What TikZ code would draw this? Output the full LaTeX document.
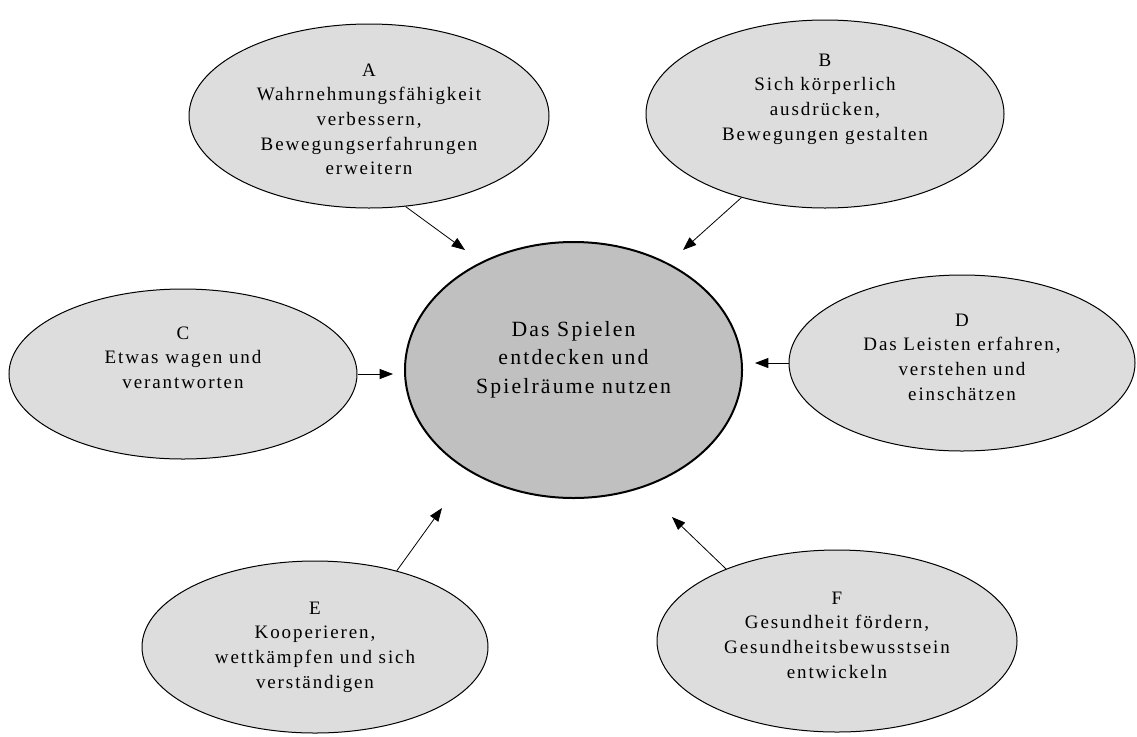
\documentclass[tikz,border=0pt]{standalone}
\usepackage{fontspec}
\setmainfont{Liberation Serif}
\usetikzlibrary{shapes.geometric,arrows.meta}
\definecolor{outerfill}{HTML}{DDDDDD}
\definecolor{innerfill}{HTML}{C0C0C0}
\begin{document}
\begin{tikzpicture}[x=0.75pt,y=-0.75pt,
  bubble/.style={ellipse, draw=black, line width=0.75pt, fill=outerfill, inner sep=0pt},
  core/.style={ellipse, draw=black, line width=1.5pt, fill=innerfill, inner sep=0pt},
  lbl/.style={align=center, inner sep=0pt, font=\fontsize{14.25pt}{18.5pt}\selectfont\addfontfeature{LetterSpace=10}},
  corelbl/.style={align=center, inner sep=0pt, font=\fontsize{16.3pt}{21.3pt}\selectfont\addfontfeature{LetterSpace=10}},
  arr/.style={line width=0.6pt, -{Triangle[length=10pt,width=7.5pt]}}]
\useasboundingbox (0,0) rectangle (1137,736);
% ellipses
\node[core, minimum width=252.75pt, minimum height=192pt] (Z) at (573.5,370) {};
\node[bubble, minimum width=270pt, minimum height=138pt] (A) at (369,116) {};
\node[bubble, minimum width=268.5pt, minimum height=141pt] (B) at (825,114) {};
\node[bubble, minimum width=261pt, minimum height=127.5pt] (C) at (183,374) {};
\node[bubble, minimum width=259.5pt, minimum height=132pt] (D) at (962,363) {};
\node[bubble, minimum width=259.5pt, minimum height=129pt] (E) at (315,647) {};
\node[bubble, minimum width=270pt, minimum height=136.5pt] (F) at (837,641) {};
% texts
\node[corelbl] (Zt) at (573.5,359.4) {Das Spielen\\entdecken und\\Spielräume nutzen};
\node[lbl] (At) at (369,119.4) {A\\Wahrnehmungsfähigkeit\\verbessern,\\Bewegungserfahrungen\\erweitern};
\node[lbl] (Bt) at (825,99.1) {B\\Sich körperlich\\ausdrücken,\\Bewegungen gestalten};
\node[lbl] (Ct) at (183,357.6) {C\\Etwas wagen und\\verantworten};
\node[lbl] (Dt) at (962,357) {D\\Das Leisten erfahren,\\verstehen und\\einschätzen};
\node[lbl] (Et) at (315,647) {E\\Kooperieren,\\wettkämpfen und sich\\verständigen};
\node[lbl] (Ft) at (837,635) {F\\Gesundheit fördern,\\Gesundheitsbewusstsein\\entwickeln};
% arrow tips
\coordinate (tA) at (465,250);
\coordinate (tB) at (683,250);
\coordinate (tC) at (393,374);
\coordinate (tD) at (755,363);
\coordinate (tE) at (442,508);
\coordinate (tF) at (672,517);
% arrows
\draw[arr] (A.-68) -- (tA);
\draw[arr] (B.225) -- (tB);
\draw[arr] (C.east) -- (tC);
\draw[arr] (D.west) -- (tD);
\draw[arr] (E.43) -- (tE);
\draw[arr] (F.147) -- (tF);
\end{tikzpicture}
\end{document}
